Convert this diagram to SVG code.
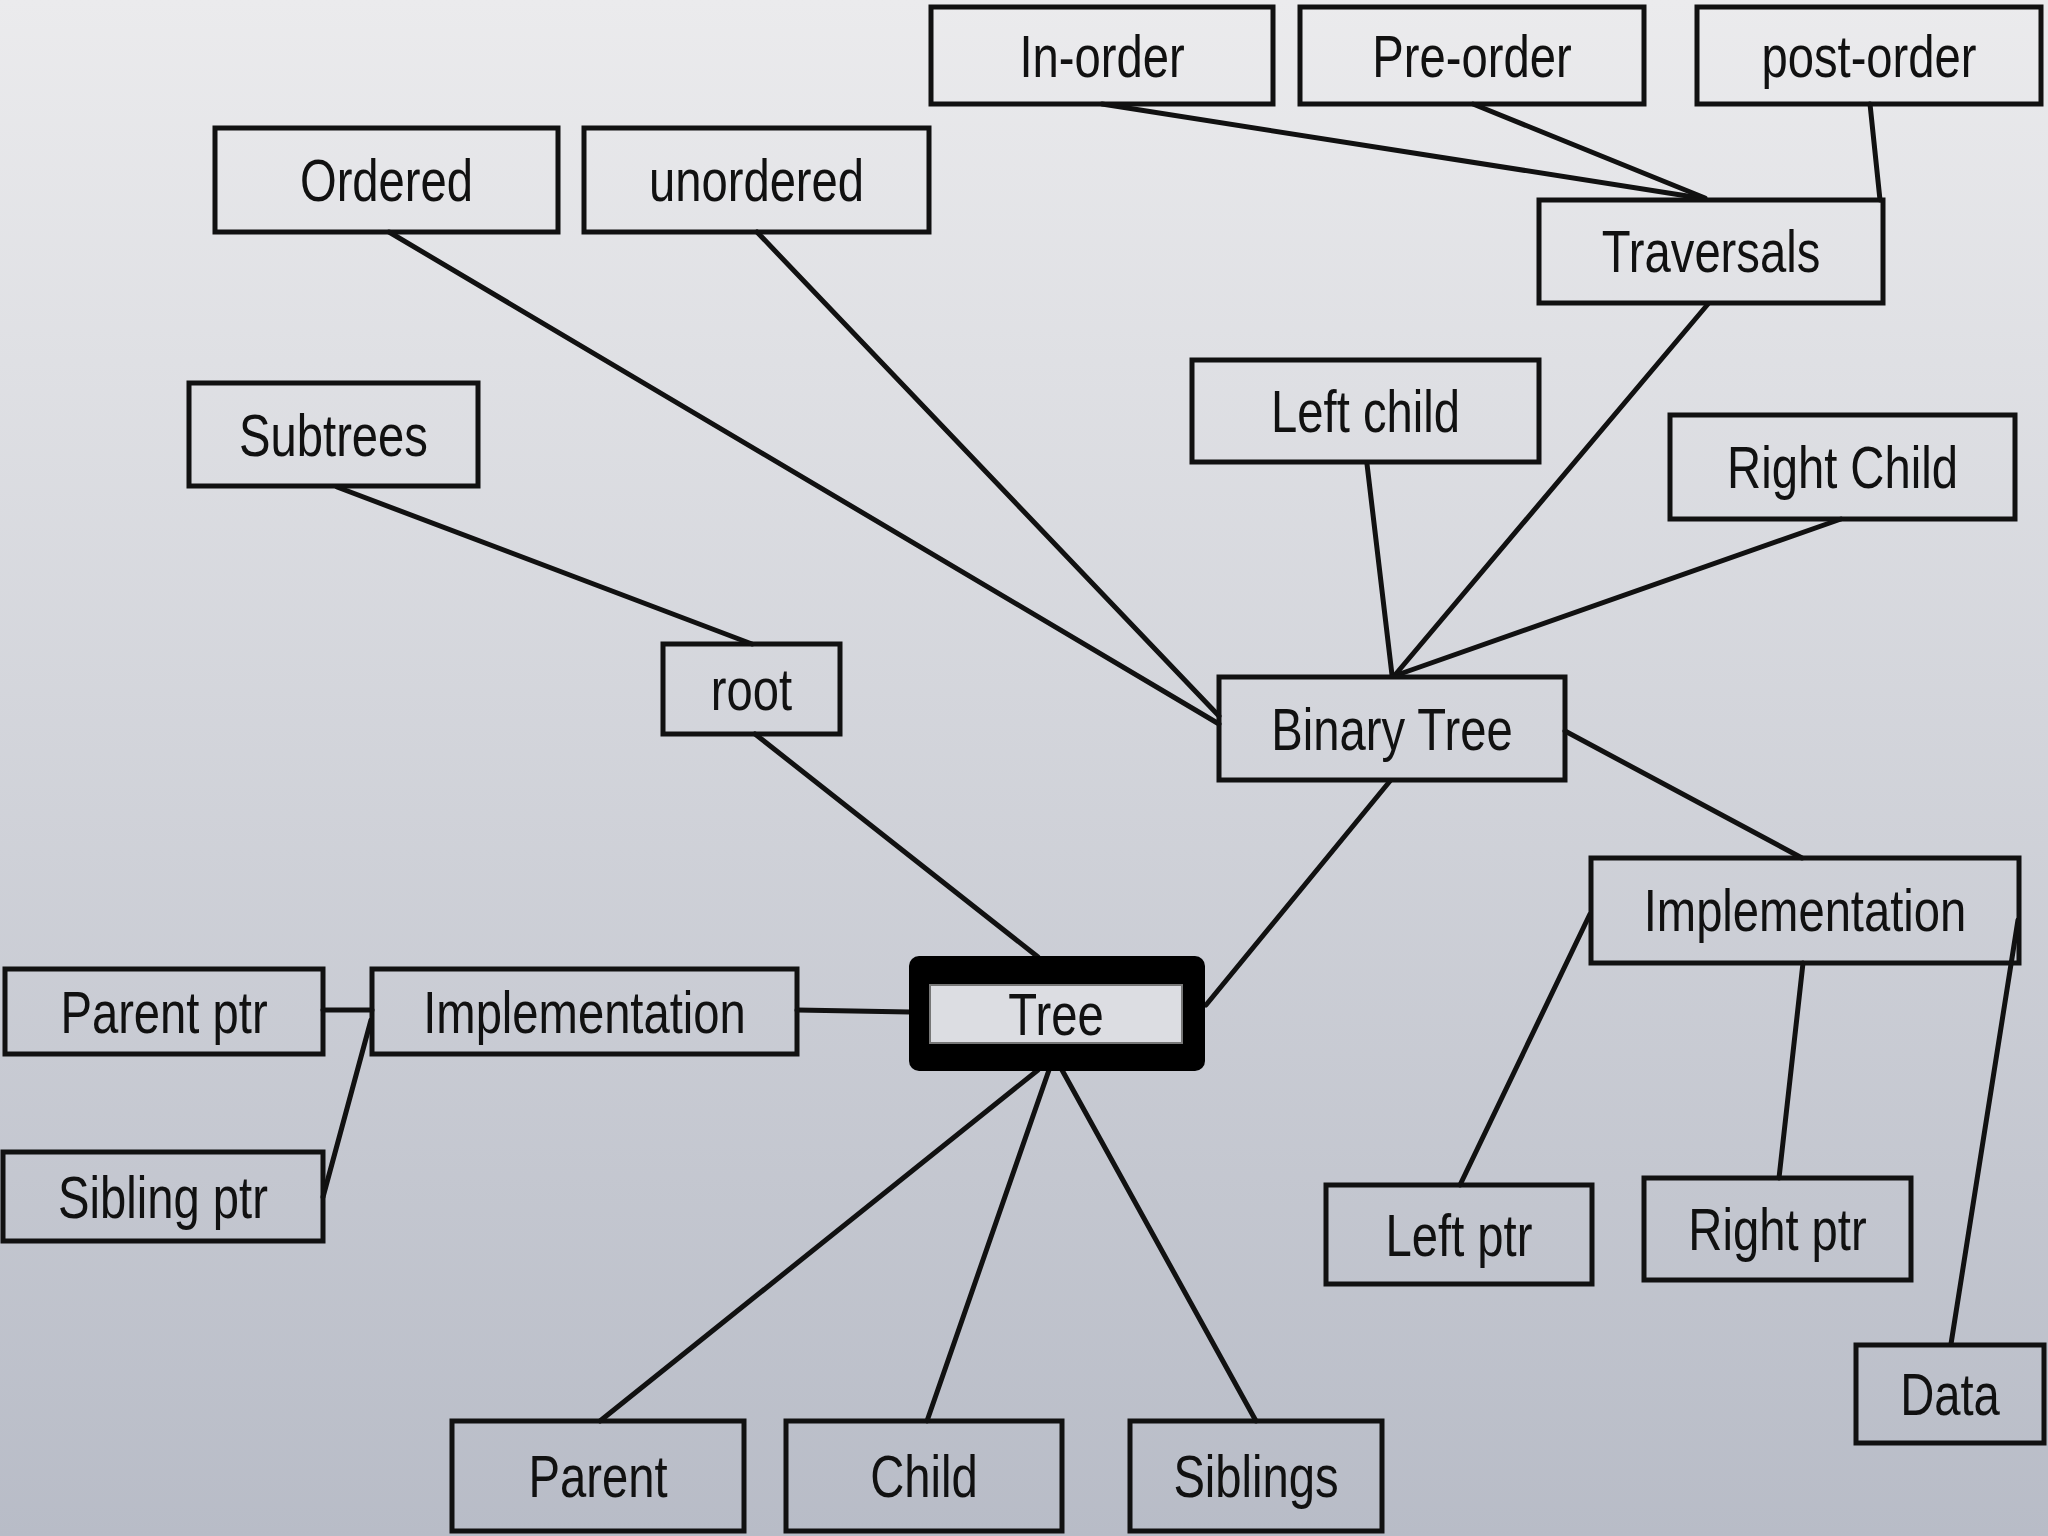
<svg xmlns="http://www.w3.org/2000/svg" width="2048" height="1536" viewBox="0 0 2048 1536">
<defs>
<linearGradient id="bg" x1="0" y1="0" x2="0" y2="1">
<stop offset="0" stop-color="#ebebed"/>
<stop offset="1" stop-color="#b8bcc7"/>
</linearGradient>
<style>
.box{fill:none;stroke:#111;stroke-width:5}
.lbl{font-family:"Liberation Sans",Arial,sans-serif;font-size:59px;fill:#111;text-anchor:middle}
.edge{stroke:#111;stroke-width:5;fill:none;stroke-linecap:round}
</style>
</defs>
<rect width="2048" height="1536" fill="url(#bg)"/>
<g id="connectors">
<line class="edge" x1="1102" y1="104" x2="1700" y2="198"/>
<line class="edge" x1="1473" y1="104" x2="1705" y2="198"/>
<line class="edge" x1="1870" y1="104" x2="1880" y2="200"/>
<line class="edge" x1="1708" y1="304" x2="1395" y2="675"/>
<line class="edge" x1="1367" y1="464" x2="1392" y2="675"/>
<line class="edge" x1="1841" y1="519" x2="1397" y2="675"/>
<line class="edge" x1="389" y1="232" x2="1219" y2="724"/>
<line class="edge" x1="757" y1="232" x2="1219" y2="716"/>
<line class="edge" x1="337" y1="487" x2="752" y2="644"/>
<line class="edge" x1="755" y1="734" x2="1038" y2="957"/>
<line class="edge" x1="1390" y1="781" x2="1206" y2="1005"/>
<line class="edge" x1="1565" y1="731" x2="1802" y2="858"/>
<line class="edge" x1="797" y1="1010" x2="910" y2="1012"/>
<line class="edge" x1="323" y1="1010" x2="372" y2="1010"/>
<line class="edge" x1="323" y1="1197" x2="371" y2="1020"/>
<line class="edge" x1="1038" y1="1070" x2="600" y2="1421"/>
<line class="edge" x1="1049" y1="1070" x2="927" y2="1421"/>
<line class="edge" x1="1062" y1="1070" x2="1256" y2="1421"/>
<line class="edge" x1="1590" y1="914" x2="1460" y2="1185"/>
<line class="edge" x1="1803" y1="963" x2="1779" y2="1178"/>
<line class="edge" x1="2018" y1="920" x2="1951" y2="1344"/>
</g>
<g id="n-inorder"><rect class="box" x="931" y="7" width="342" height="97"/><text class="lbl" transform="translate(1102 77) scale(0.8 1)">In-order</text></g>
<g id="n-preorder"><rect class="box" x="1300" y="7" width="344" height="97"/><text class="lbl" transform="translate(1472 77) scale(0.8 1)">Pre-order</text></g>
<g id="n-postorder"><rect class="box" x="1697" y="7" width="344" height="97"/><text class="lbl" transform="translate(1869 77) scale(0.8 1)">post-order</text></g>
<g id="n-ordered"><rect class="box" x="215" y="128" width="343" height="104"/><text class="lbl" transform="translate(386.5 201) scale(0.8 1)">Ordered</text></g>
<g id="n-unordered"><rect class="box" x="584" y="128" width="345" height="104"/><text class="lbl" transform="translate(756.5 201) scale(0.8 1)">unordered</text></g>
<g id="n-traversals"><rect class="box" x="1539" y="200" width="344" height="103"/><text class="lbl" transform="translate(1711 272) scale(0.8 1)">Traversals</text></g>
<g id="n-subtrees"><rect class="box" x="189" y="383" width="289" height="103"/><text class="lbl" transform="translate(333.5 456) scale(0.8 1)">Subtrees</text></g>
<g id="n-leftchild"><rect class="box" x="1192" y="360" width="347" height="102"/><text class="lbl" transform="translate(1365.5 432) scale(0.8 1)">Left child</text></g>
<g id="n-rightchild"><rect class="box" x="1670" y="415" width="345" height="104"/><text class="lbl" transform="translate(1842.5 488) scale(0.8 1)">Right Child</text></g>
<g id="n-root"><rect class="box" x="663" y="644" width="177" height="90"/><text class="lbl" transform="translate(751.5 710) scale(0.8 1)">root</text></g>
<g id="n-binarytree"><rect class="box" x="1219" y="677" width="346" height="103"/><text class="lbl" transform="translate(1392 750) scale(0.8 1)">Binary Tree</text></g>
<g id="n-impl-right"><rect class="box" x="1591" y="858" width="428" height="105"/><text class="lbl" transform="translate(1805 931) scale(0.8 1)">Implementation</text></g>
<g id="n-tree"><rect x="909" y="956" width="296" height="115" rx="10" fill="#000"/><rect x="930" y="985" width="252" height="58" fill="#dcdde2" stroke="#777" stroke-width="2"/><text class="lbl" transform="translate(1056 1035) scale(0.8 1)">Tree</text></g>
<g id="n-impl-left"><rect class="box" x="372" y="969" width="425" height="85"/><text class="lbl" transform="translate(584.5 1033) scale(0.8 1)">Implementation</text></g>
<g id="n-parentptr"><rect class="box" x="5" y="969" width="318" height="85"/><text class="lbl" transform="translate(164 1033) scale(0.8 1)">Parent ptr</text></g>
<g id="n-siblingptr"><rect class="box" x="3" y="1152" width="320" height="89"/><text class="lbl" transform="translate(163 1218) scale(0.8 1)">Sibling ptr</text></g>
<g id="n-leftptr"><rect class="box" x="1326" y="1185" width="266" height="99"/><text class="lbl" transform="translate(1459 1256) scale(0.8 1)">Left ptr</text></g>
<g id="n-rightptr"><rect class="box" x="1644" y="1178" width="267" height="102"/><text class="lbl" transform="translate(1777.5 1250) scale(0.8 1)">Right ptr</text></g>
<g id="n-data"><rect class="box" x="1856" y="1345" width="188" height="98"/><text class="lbl" transform="translate(1950 1415) scale(0.8 1)">Data</text></g>
<g id="n-parent"><rect class="box" x="452" y="1421" width="292" height="110"/><text class="lbl" transform="translate(598 1497) scale(0.8 1)">Parent</text></g>
<g id="n-child"><rect class="box" x="786" y="1421" width="276" height="110"/><text class="lbl" transform="translate(924 1497) scale(0.8 1)">Child</text></g>
<g id="n-siblings"><rect class="box" x="1130" y="1421" width="252" height="110"/><text class="lbl" transform="translate(1256 1497) scale(0.8 1)">Siblings</text></g>
</svg>
